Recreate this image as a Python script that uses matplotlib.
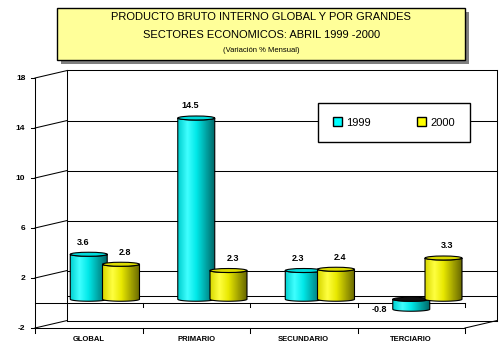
import matplotlib.pyplot as plt
import numpy as np
from matplotlib.path import Path
from matplotlib.patches import PathPatch, Ellipse, Rectangle, Patch
from matplotlib.colors import LinearSegmentedColormap

# Datos
categorias = ["GLOBAL", "PRIMARIO", "SECUNDARIO", "TERCIARIO"]
v1999 = [3.6, 14.5, 2.3, -0.8]
v2000 = [2.8, 2.3, 2.4, 3.3]
etiquetas_1999 = ["3.6", "14.5", "2.3", "-0.8"]
etiquetas_2000 = ["2.8", "2.3", "2.4", "3.3"]
ticks_y = [-2, 2, 6, 10, 14, 18]

plt.rcParams['font.family'] = ['Liberation Sans', 'DejaVu Sans']

# profundidad del falso 3D (en unidades de datos)
DX = 0.3
DZ = 0.6

cmap_cyan = LinearSegmentedColormap.from_list(
    "cy", ["#00d0d0", "#40ffff", "#00e8e8", "#00a8a8", "#006868"])
cmap_yel = LinearSegmentedColormap.from_list(
    "ye", ["#d8d800", "#ffff40", "#e8e800", "#a8a800", "#686800"])

fig = plt.figure(figsize=(5.04, 3.57), dpi=100)
ax = fig.add_axes([0, 0, 1, 1])
ax.set_xlim(-35 / 107.5, 469 / 107.5)
ax.set_ylim(-4.32, 24.24)
ax.set_autoscale_on(False)
ax.axis("off")

lw = 0.75
# Paredes y rejilla
for v in ticks_y:
    ax.plot([DX, 4 + DX], [v + DZ, v + DZ], color="black", lw=lw, zorder=1)
    ax.plot([0, DX], [v, v + DZ], color="black", lw=lw, zorder=1)
    ax.plot([-0.04, 0], [v, v], color="black", lw=lw, zorder=1)
    ax.text(-0.09, v, str(v), ha="right", va="center", fontsize=6,
            fontweight="bold")
ax.plot([0, 0], [-2, 18], color="black", lw=lw, zorder=1)
ax.plot([DX, DX], [-2 + DZ, 18 + DZ], color="black", lw=lw, zorder=1)
ax.plot([4 + DX, 4 + DX], [-2 + DZ, 18 + DZ], color="black", lw=lw, zorder=1)

# Piso (-2) y plano cero
ax.plot([0, 4], [-2, -2], color="black", lw=lw, zorder=1)
ax.plot([4, 4 + DX], [-2, -2 + DZ], color="black", lw=lw, zorder=1)
ax.plot([0, 4], [0, 0], color="black", lw=lw, zorder=1)
ax.plot([DX, 4 + DX], [DZ, DZ], color="black", lw=lw, zorder=1)
for i in range(5):
    ax.plot([i, i], [-2, -2.4], color="black", lw=lw, zorder=1)
    if i > 0:
        ax.plot([i, i], [0, -0.3], color="black", lw=lw, zorder=1)

for i, c in enumerate(categorias):
    ax.text(i + 0.5, -2.9, c, ha="center", va="center", fontsize=5.5,
            fontweight="bold")


def cilindro(xc, valor, cmap, color_tapa, z):
    a = 0.172
    e = 0.16
    base = DZ / 2
    tope = valor + DZ / 2
    lo, hi = min(base, tope), max(base, tope)
    t = np.linspace(np.pi, 2 * np.pi, 40)
    abajo = np.column_stack([xc + a * np.cos(t), lo + e * np.sin(t)])
    arriba = np.column_stack([xc + a * np.cos(t[::-1]), hi + e * np.sin(t[::-1])])
    pts = np.vstack([abajo, arriba, abajo[:1]])
    cuerpo = PathPatch(Path(pts), facecolor="none", edgecolor="black",
                       lw=0.8, zorder=z + 0.2)
    ax.add_patch(cuerpo)
    grad = np.linspace(0, 1, 64).reshape(1, -1)
    im = ax.imshow(grad, cmap=cmap, aspect="auto",
                   extent=[xc - a, xc + a, lo - e, hi + e], zorder=z)
    im.set_clip_path(cuerpo)
    tapa = Ellipse((xc, hi), 2 * a, 2 * e, facecolor=color_tapa,
                   edgecolor="black", lw=0.8, zorder=z + 0.3)
    ax.add_patch(tapa)


for i in range(len(categorias)):
    x1 = i + 0.35 + DX / 2
    x2 = i + 0.65 + DX / 2
    tapa1 = "#00dcdc" if v1999[i] >= 0 else "#101010"
    cilindro(x1, v1999[i], cmap_cyan, tapa1, 3 + i * 2)
    cilindro(x2, v2000[i], cmap_yel, "#dcdc00", 4 + i * 2)
    if v1999[i] >= 0:
        ax.annotate(etiquetas_1999[i], (x1, v1999[i] + DZ / 2),
                    xytext=(-6, 12), textcoords="offset pixels",
                    ha="center", va="center", fontsize=6.5, fontweight="bold")
    else:
        ax.annotate(etiquetas_1999[i], (x1, v1999[i] + DZ / 2),
                    xytext=(-32, 0), textcoords="offset pixels",
                    ha="center", va="center", fontsize=6.5, fontweight="bold")
    ax.annotate(etiquetas_2000[i], (x2, v2000[i] + DZ / 2),
                xytext=(4, 12), textcoords="offset pixels",
                ha="center", va="center", fontsize=6.5, fontweight="bold")

# Leyenda
handles = [Patch(facecolor="#00ffff", edgecolor="black", label="1999"),
           Patch(facecolor="#ffff00", edgecolor="black", label="2000")]
leg = ax.legend(handles=handles, loc="center", bbox_to_anchor=(0.782, 0.657),
                bbox_transform=fig.transFigure, ncol=2, fontsize=8,
                frameon=True, fancybox=False, edgecolor="black",
                framealpha=1, handlelength=0.8, handleheight=0.8,
                handletextpad=0.4, columnspacing=4.2, borderpad=1.3)
leg.get_frame().set_linewidth(1.0)
leg.set_zorder(20)

# Titulo con sombra
fig.patches.append(Rectangle((57 / 504 + 0.008, 1 - 60 / 357 - 0.011),
                             408 / 504, 52 / 357, transform=fig.transFigure,
                             facecolor="#808080", edgecolor="none", zorder=0))
fig.patches.append(Rectangle((57 / 504, 1 - 60 / 357), 408 / 504, 52 / 357,
                             transform=fig.transFigure, facecolor="#ffff99",
                             edgecolor="black", lw=1.0, zorder=1))
fig.text(0.518, 1 - 17 / 357, "PRODUCTO BRUTO INTERNO GLOBAL Y POR GRANDES",
         ha="center", va="center", fontsize=8)
fig.text(0.518, 1 - 35 / 357, "SECTORES ECONOMICOS: ABRIL 1999 -2000",
         ha="center", va="center", fontsize=8)
fig.text(0.518, 1 - 50 / 357, "(Variación % Mensual)",
         ha="center", va="center", fontsize=5.5)

fig.savefig("out.png", dpi=100)
